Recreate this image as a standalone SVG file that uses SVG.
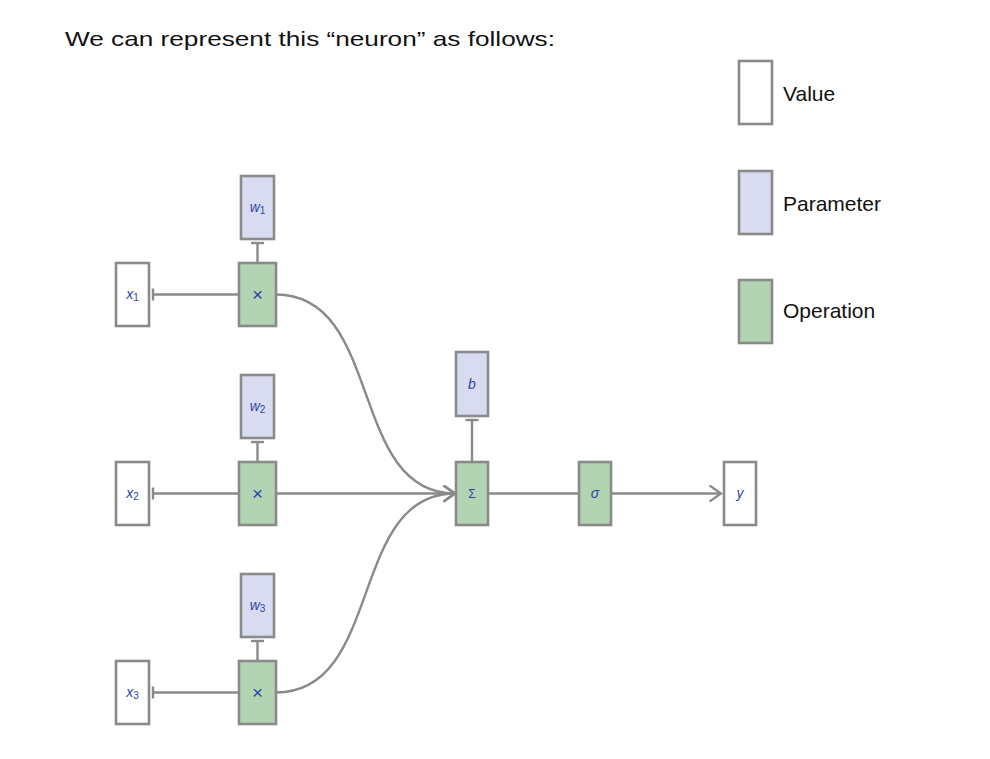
<svg xmlns="http://www.w3.org/2000/svg" width="990" height="759" viewBox="0 0 990 759">
<defs>
<style>
.box{stroke:#8a8a8a;stroke-width:2.6}
.val{fill:#ffffff}
.par{fill:#d9dcf0}
.op{fill:#b3d4b3}
.ln{fill:none;stroke:#8a8a8a;stroke-width:2.4}
.bar{fill:none;stroke:#8a8a8a;stroke-width:2.4}
.lbl{font-family:"Liberation Sans","DejaVu Sans",sans-serif;font-size:14px;fill:#2f45a8;text-anchor:middle}
.it{font-style:italic}
.sub{font-size:10px;font-style:normal}
.mul{font-size:19px;font-weight:300}
.txt{font-family:"Liberation Sans","DejaVu Sans",sans-serif;font-size:21px;fill:#111111}
</style>
<marker id="arr" viewBox="0 0 14 18" refX="12.5" refY="9" markerWidth="14" markerHeight="18" markerUnits="userSpaceOnUse" orient="auto">
<path d="M1,1 L12.5,9 L1,17" fill="none" stroke="#8a8a8a" stroke-width="2.4"/>
</marker>
</defs>
<rect width="990" height="759" fill="#ffffff"/>
<text class="txt" x="65" y="46" textLength="490" lengthAdjust="spacingAndGlyphs">We can represent this “neuron” as follows:</text>

<g id="connectors">
<path class="ln" d="M239,294.5 H153"/><path class="bar" d="M153,288.5 V300.5"/>
<path class="ln" d="M239,493.5 H153"/><path class="bar" d="M153,487.5 V499.5"/>
<path class="ln" d="M239,692.5 H153"/><path class="bar" d="M153,686.5 V698.5"/>
<path class="ln" d="M257.5,263 V243"/><path class="bar" d="M251,243 H264"/>
<path class="ln" d="M257.5,462 V442"/><path class="bar" d="M251,442 H264"/>
<path class="ln" d="M257.5,661 V641"/><path class="bar" d="M251,641 H264"/>
<path class="ln" d="M472,462 V420"/><path class="bar" d="M465.5,420 H478.5"/>
<path class="ln" d="M276,294.5 C384,294.5 348,493.5 455,493.5" marker-end="url(#arr)"/>
<path class="ln" d="M276,493.5 H455" marker-end="url(#arr)"/>
<path class="ln" d="M276,692.5 C384,692.5 348,493.5 455,493.5" marker-end="url(#arr)"/>
<path class="ln" d="M488,493.5 H579"/>
<path class="ln" d="M611,493.5 H721" marker-end="url(#arr)"/>
</g>

<g id="x1"><rect class="box val" x="116" y="263" width="33" height="63"/><text class="lbl" x="132.5" y="299"><tspan class="it">x</tspan><tspan class="sub" dy="2">1</tspan></text></g>
<g id="x2"><rect class="box val" x="116" y="462" width="33" height="63"/><text class="lbl" x="132.5" y="498"><tspan class="it">x</tspan><tspan class="sub" dy="2">2</tspan></text></g>
<g id="x3"><rect class="box val" x="116" y="661" width="33" height="63"/><text class="lbl" x="132.5" y="697"><tspan class="it">x</tspan><tspan class="sub" dy="2">3</tspan></text></g>

<g id="w1"><rect class="box par" x="241" y="176" width="33" height="63"/><text class="lbl" x="257.5" y="211.5"><tspan class="it">w</tspan><tspan class="sub" dy="2">1</tspan></text></g>
<g id="w2"><rect class="box par" x="241" y="375" width="33" height="63"/><text class="lbl" x="257.5" y="410.5"><tspan class="it">w</tspan><tspan class="sub" dy="2">2</tspan></text></g>
<g id="w3"><rect class="box par" x="241" y="574" width="33" height="63"/><text class="lbl" x="257.5" y="609.5"><tspan class="it">w</tspan><tspan class="sub" dy="2">3</tspan></text></g>

<g id="mul1"><rect class="box op" x="239" y="263" width="37" height="63"/><text class="lbl mul" x="257.5" y="301">×</text></g>
<g id="mul2"><rect class="box op" x="239" y="462" width="37" height="63"/><text class="lbl mul" x="257.5" y="500">×</text></g>
<g id="mul3"><rect class="box op" x="239" y="661" width="37" height="63"/><text class="lbl mul" x="257.5" y="699">×</text></g>

<g id="b"><rect class="box par" x="456" y="352" width="32" height="64"/><text class="lbl it" x="472" y="389">b</text></g>
<g id="sum"><rect class="box op" x="456" y="462" width="32" height="63"/><text class="lbl" x="472" y="498" style="font-size:12px">Σ</text></g>
<g id="sigma"><rect class="box op" x="579" y="462" width="32" height="63"/><text class="lbl it" x="595" y="498">σ</text></g>
<g id="y"><rect class="box val" x="724" y="462" width="32" height="63"/><text class="lbl it" x="740" y="498">y</text></g>

<g id="legend-value"><rect class="box val" x="739" y="61" width="33" height="63"/><text class="txt" x="783" y="101">Value</text></g>
<g id="legend-parameter"><rect class="box par" x="739" y="171" width="33" height="63"/><text class="txt" x="783" y="211">Parameter</text></g>
<g id="legend-operation"><rect class="box op" x="739" y="280" width="33" height="63"/><text class="txt" x="783" y="318">Operation</text></g>
</svg>
